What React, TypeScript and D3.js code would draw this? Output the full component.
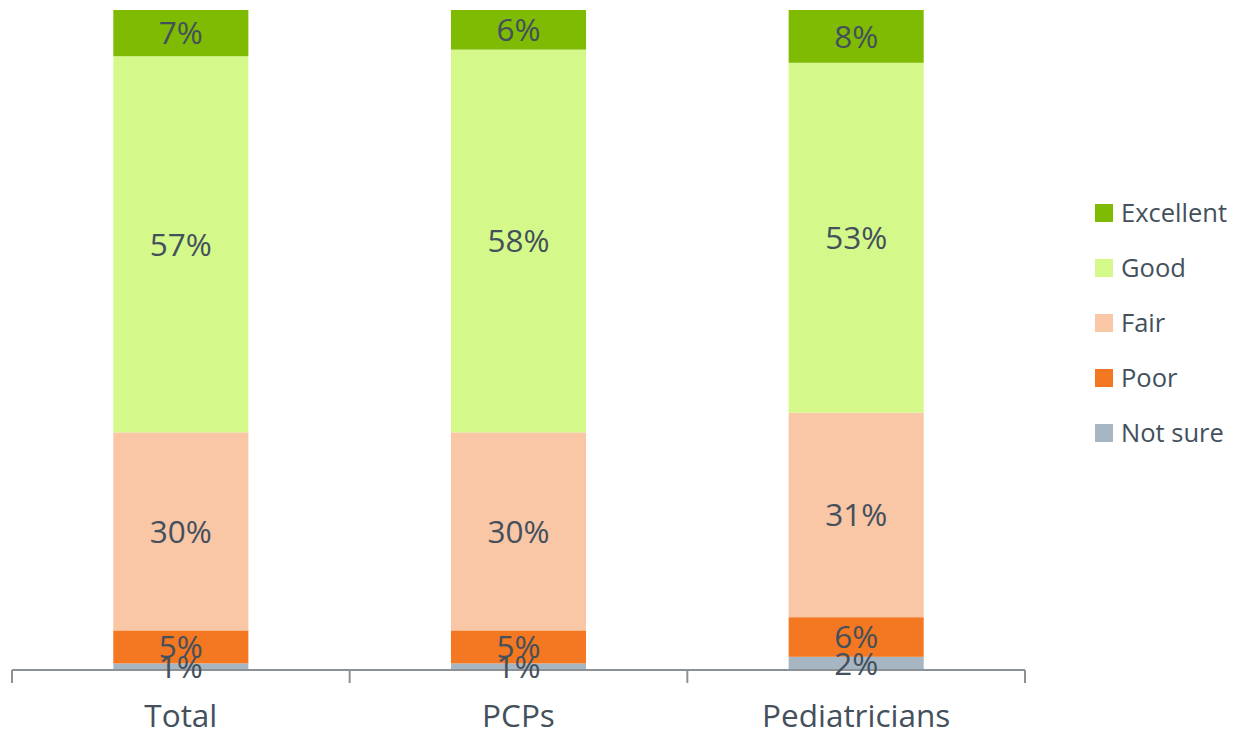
import React from "react";
import * as d3 from "d3";

const categories = ["Total", "PCPs", "Pediatricians"];
const seriesNames = ["Not sure", "Poor", "Fair", "Good", "Excellent"];
const notSure = [1, 1, 2];
const poor = [5, 5, 6];
const fair = [30, 30, 31];
const good = [57, 58, 53];
const excellent = [7, 6, 8];
const colors = ["#a6b6c3", "#f47721", "#f9c6a6", "#d4f98a", "#7fbb02"];

const W = 1239;
const H = 732;
const left = 12;
const right = 1025;
const top = 10;
const bottom = 670;
const textColor = "#44505c";
const font = "'Open Sans', sans-serif";

export default function App() {
  const seriesValues = [notSure, poor, fair, good, excellent];
  const rows = categories.map((c, i) => {
    const r: any = { cat: c };
    seriesNames.forEach((s, k) => (r[s] = seriesValues[k][i]));
    return r;
  });
  const stack = d3.stack<any>().keys(seriesNames)(rows);
  const x = d3.scaleBand().domain(categories).range([left, right]).paddingInner(0.6).paddingOuter(0.3);
  const y = d3.scaleLinear().domain([0, 100]).range([bottom, top]);
  const legendOrder = [...seriesNames].reverse();

  return (
    <svg width={W} height={H} style={{ position: "absolute", left: 0, top: 0, background: "#fff" }}>
      {stack.map((layer, k) => (
        <g key={layer.key}>
          {layer.map((d, i) => (
            <rect
              key={i}
              x={x(categories[i])}
              y={y(d[1])}
              width={x.bandwidth()}
              height={y(d[0]) - y(d[1])}
              fill={colors[k]}
            />
          ))}
        </g>
      ))}
      <line x1={left} x2={right} y1={bottom} y2={bottom} stroke="#8c9196" strokeWidth={2} />
      {[0, 1, 2, 3].map((i) => {
        const tx = left + (i * (right - left)) / 3;
        return <line key={i} x1={tx} x2={tx} y1={bottom} y2={bottom + 13} stroke="#8c9196" strokeWidth={2} />;
      })}
      {stack.map((layer, k) => (
        <g key={"l" + layer.key}>
          {layer.map((d, i) => (
            <text
              key={i}
              x={(x(categories[i]) as number) + x.bandwidth() / 2}
              y={(y(d[0]) + y(d[1])) / 2}
              dy="0.36em"
              textAnchor="middle"
              fontFamily={font}
              fontSize={31.5}
              fill={textColor}
            >
              {seriesValues[k][i]}%
            </text>
          ))}
        </g>
      ))}
      {categories.map((c) => (
        <text
          key={c}
          x={(x(c) as number) + x.bandwidth() / 2}
          y={727}
          textAnchor="middle"
          fontFamily={font}
          fontSize={31.5}
          fill={textColor}
        >
          {c}
        </text>
      ))}
      {legendOrder.map((s, i) => {
        const k = seriesNames.indexOf(s);
        const cy = 213 + i * 55;
        return (
          <g key={s}>
            <rect x={1095} y={cy - 9} width={18} height={18} fill={colors[k]} />
            <text x={1121} y={cy} dy="0.36em" fontFamily={font} fontSize={25.5} fill={textColor}>
              {s}
            </text>
          </g>
        );
      })}
    </svg>
  );
}
